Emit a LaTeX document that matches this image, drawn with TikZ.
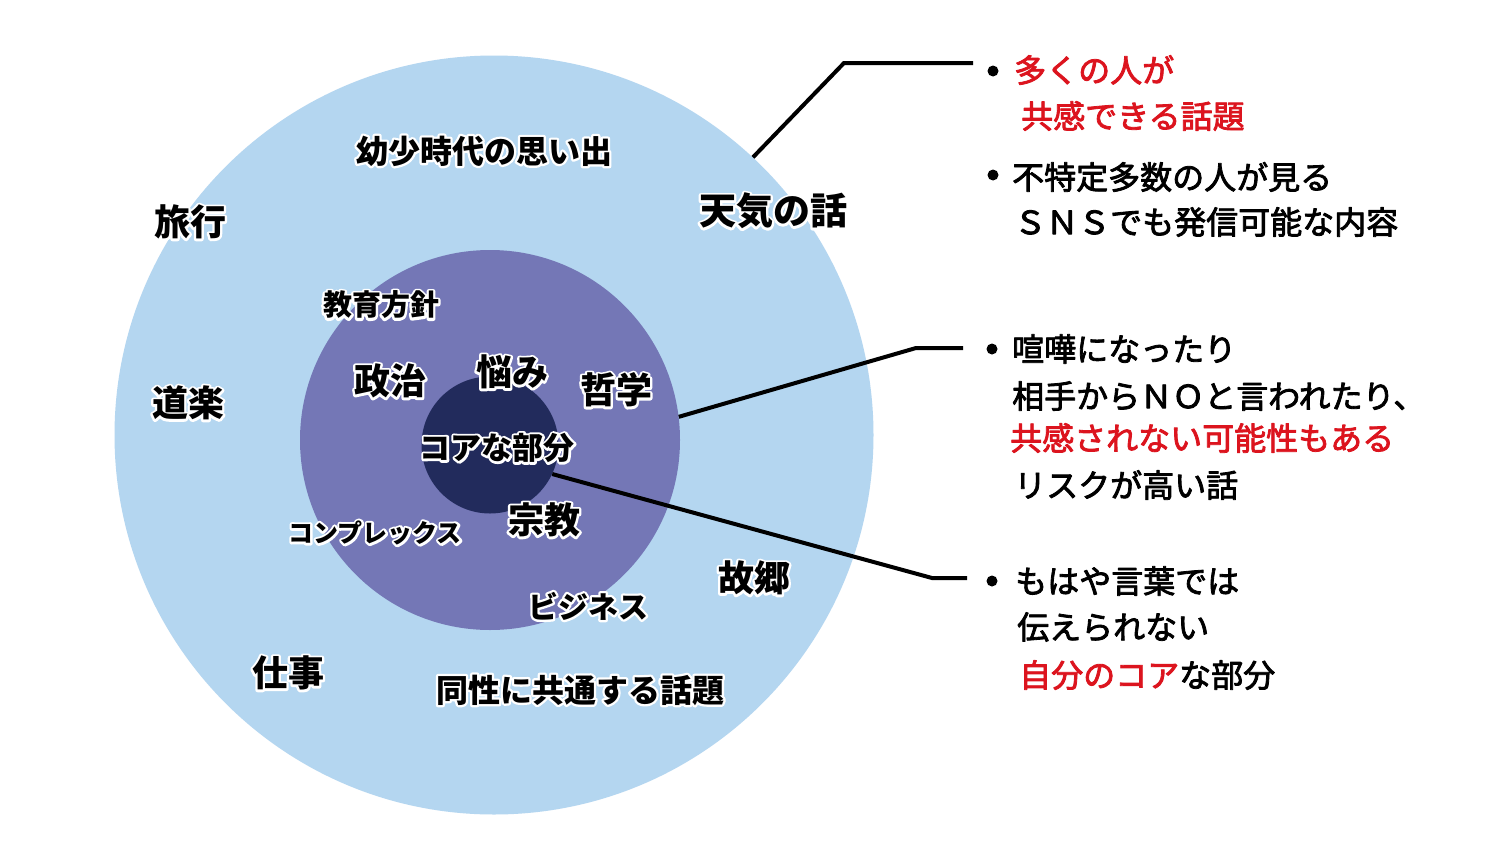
\documentclass[tikz,border=0pt]{standalone}
\usepackage{fontspec}
\newfontfamily\cjk{Noto Sans CJK JP}
\newcommand\halotext[1]{\rlap{\special{pdf:literal direct q 1 Tr 1 1 1 RG 4.6 w 1 j 1 J}#1\special{pdf:literal direct Q}}#1}
\newcommand\heavytext[1]{\special{pdf:literal direct q 2 Tr 0.8 w 1 j}#1\special{pdf:literal direct Q}}
\definecolor{outerc}{HTML}{B4D6F0}
\definecolor{midc}{HTML}{7477B6}
\definecolor{innerc}{HTML}{222B5C}
\definecolor{redc}{HTML}{DC141E}
\begin{document}
\begin{tikzpicture}[x=1pt,y=-1pt,
  ring/.style={circle,draw=none,inner sep=0pt},
  lbl/.style={font=\cjk\bfseries\fontsize{#1}{#1}\selectfont,inner sep=0pt,text=black},
  txt/.style={font=\cjk\fontsize{32}{32}\selectfont,inner sep=0pt,anchor=west,text=black},
  red/.style={text=redc},
  conn/.style={line width=4pt,black,line join=miter},
  bul/.style={circle,fill=black,inner sep=0pt,minimum size=11pt}]
\useasboundingbox (0,0) rectangle (1500,857);
\fill[white] (0,0) rectangle (1500,857);
% rings
\node[ring,fill=outerc,minimum size=759pt] (outer) at (494,435) {};
\node[ring,fill=midc,minimum size=380pt] (mid) at (490,440) {};
\node[ring,fill=innerc,minimum size=137pt] (inner) at (490,445) {};
% labels
\node[lbl=32] (l1) at (484,151) {\halotext{幼少時代の思い出}};
\node[lbl=36] (l2) at (190,222) {\halotext{旅行}};
\node[lbl=37] (l3) at (773,211) {\halotext{天気の話}};
\node[lbl=29] (l4) at (381,305) {\halotext{教育方針}};
\node[lbl=36] (l5) at (390,381) {\halotext{政治}};
\node[lbl=36] (l6) at (512,372) {\halotext{悩み}};
\node[lbl=36] (l7) at (616,390) {\halotext{哲学}};
\node[lbl=31] (l8) at (497,448) {\halotext{コアな部分}};
\node[lbl=36] (l9) at (544,520) {\halotext{宗教}};
\node[lbl=25] (l10) at (375,533) {\halotext{コンプレックス}};
\node[lbl=36] (l11) at (188,403) {\halotext{道楽}};
\node[lbl=36] (l12) at (754,578) {\halotext{故郷}};
\node[lbl=30] (l13) at (588,606) {\halotext{ビジネス}};
\node[lbl=36] (l14) at (288,673) {\halotext{仕事}};
\node[lbl=32] (l15) at (580,690) {\halotext{同性に共通する話題}};
% connectors
\coordinate (e1) at (973,63);
\coordinate (e2) at (963,348);
\coordinate (e3) at (967,578);
\draw[conn] (outer.47.4) -- (844,63) -- (e1);
\draw[conn] (mid.7.3) -- (916,348) -- (e2);
\draw[conn] (inner.-25) -- (932,578) -- (e3);
% bullets
\node[bul] (b1) at (993,71) {};
\node[bul] (b2) at (993,175) {};
\node[bul] (b3) at (992,349) {};
\node[bul] (b4) at (992,581) {};
% right texts
\node[txt,red] (t1) at (1014,70) {\heavytext{多くの人が}};
\node[txt,red] (t2) at (1021,116) {\heavytext{共感できる話題}};
\node[txt] (t3) at (1012,177) {\heavytext{不特定多数の人が見る}};
\node[txt] (t4) at (1014,222) {\heavytext{ＳＮＳでも発信可能な内容}};
\node[txt] (t5) at (1012,349) {\heavytext{喧嘩になったり}};
\node[txt] (t6) at (1012,396) {\heavytext{相手からＮＯと言われたり、}};
\node[txt,red] (t7) at (1010,438) {\heavytext{共感されない可能性もある}};
\node[txt] (t8) at (1014,485) {\heavytext{リスクが高い話}};
\node[txt] (t9) at (1015,581) {\heavytext{もはや言葉では}};
\node[txt] (t10) at (1017,627) {\heavytext{伝えられない}};
\node[txt] (t11) at (1019,675) {\heavytext{\textcolor{redc}{自分のコア}な部分}};
\end{tikzpicture}
\end{document}
